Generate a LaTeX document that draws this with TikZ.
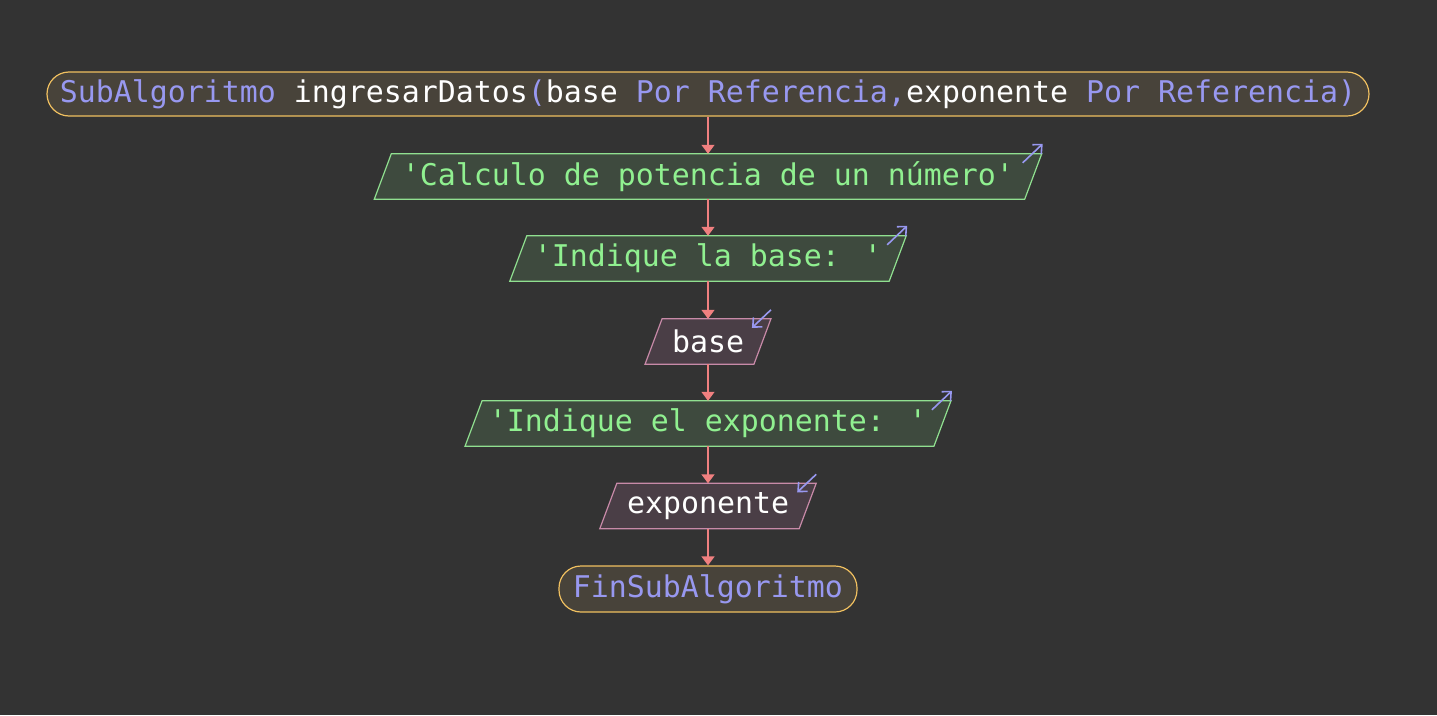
\documentclass[tikz,border=0pt]{standalone}
\usepackage{fontspec}
\newfontfamily\codefont{DejaVu Sans Mono}
\usetikzlibrary{arrows.meta,calc}
\pgfdeclarelayer{canvas}
\pgfdeclarelayer{background}
\pgfsetlayers{canvas,background,main}

\definecolor{bgcol}{HTML}{333333}
\definecolor{termfill}{HTML}{48433A}
\definecolor{termdraw}{HTML}{F0C060}
\definecolor{outfill}{HTML}{3E4A3E}
\definecolor{outdraw}{HTML}{90E090}
\definecolor{outtext}{HTML}{90F090}
\definecolor{infill}{HTML}{4A3E46}
\definecolor{indraw}{HTML}{C88AA8}
\definecolor{kw}{HTML}{9898F0}
\definecolor{flowred}{HTML}{F08080}

% parallelogram drawn around a rectangular node: name, fill, border
\newcommand\slantbox[3]{%
  \path[fill=#2,draw=#3,line width=1.2pt]
    ($(#1.north west)+(8.5,0)$) -- ($(#1.north east)+(8.5,0)$) --
    ($(#1.south east)+(-8.5,0)$) -- ($(#1.south west)+(-8.5,0)$) -- cycle;}
% small marks at the upper right corner: output (up-right) and input (down-left)
\newcommand\outmark[1]{\draw[hint] ($(#1.north east)+(-10.5,9)$) -- ($(#1.north east)+(9.5,-10)$);}
\newcommand\inmark[1]{\draw[hint] ($(#1.north east)+(8.5,-9)$) -- ($(#1.north east)+(-10.5,9)$);}

\tikzset{
  box/.style={rectangle, inner sep=0pt, minimum height=45pt,
    font=\codefont\fontsize{29.9}{34}\selectfont},
  outbox/.style={box, text=outtext},
  inbox/.style={box, text=white},
  term/.style={box, rounded corners=22pt, draw=termdraw, fill=termfill,
    line width=1.2pt, text=white},
  flow/.style={draw=flowred, line width=1.5pt, -{Triangle[width=13pt,length=9pt]}},
  hint/.style={draw=kw, line width=1.6pt, -{Straight Barb[length=7pt,width=13pt]}},
}

\begin{document}
\begin{tikzpicture}[x=1pt,y=-1pt]
\begin{pgfonlayer}{canvas}
  \fill[bgcol] (0,0) rectangle (1437,715);
\end{pgfonlayer}
\useasboundingbox (0,0) rectangle (1437,715);

\node[term, minimum width=1322pt, minimum height=44pt] (start) at (708,94)
  {{\color{kw}SubAlgoritmo} ingresarDatos{\color{kw}(}base {\color{kw}Por Referencia,}exponente {\color{kw}Por Referencia)}};
\node[outbox, minimum width=650pt] (o1) at (708,176.5) {'Calculo de potencia de un número'};
\node[outbox, minimum width=379pt] (o2) at (708,258.5) {'Indique la base: '};
\node[inbox, minimum width=108.5pt] (i1) at (708,341.5) {base};
\node[outbox, minimum width=468.5pt] (o3) at (708,423.5) {'Indique el exponente: '};
\node[inbox, minimum width=199pt] (i2) at (708,506) {exponente};
\node[term, minimum width=298pt, minimum height=46pt, text=kw] (end) at (708,589) {FinSubAlgoritmo};

\begin{pgfonlayer}{background}
  \slantbox{o1}{outfill}{outdraw}
  \slantbox{o2}{outfill}{outdraw}
  \slantbox{i1}{infill}{indraw}
  \slantbox{o3}{outfill}{outdraw}
  \slantbox{i2}{infill}{indraw}
\end{pgfonlayer}

\outmark{o1}
\outmark{o2}
\inmark{i1}
\outmark{o3}
\inmark{i2}

\draw[flow] (start.south) -- (o1.north);
\draw[flow] (o1.south) -- (o2.north);
\draw[flow] (o2.south) -- (i1.north);
\draw[flow] (i1.south) -- (o3.north);
\draw[flow] (o3.south) -- (i2.north);
\draw[flow] (i2.south) -- (end.north);
\end{tikzpicture}
\end{document}
